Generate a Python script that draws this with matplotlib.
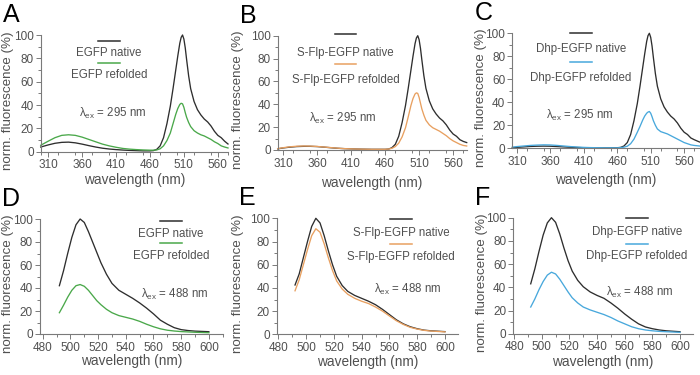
import numpy as np
import matplotlib
matplotlib.use("Agg")
import matplotlib.pyplot as plt
from matplotlib.ticker import MultipleLocator, FixedLocator

plt.rcParams['font.family'] = ['Liberation Sans', 'DejaVu Sans']
plt.rcParams['mathtext.fontset'] = 'custom'
plt.rcParams['mathtext.rm'] = 'Liberation Sans'
plt.rcParams['mathtext.it'] = 'Liberation Sans'
plt.rcParams['mathtext.default'] = 'regular'

# ---------------- data ----------------
# excitation at 295 nm, panels A-C
a_x = [299, 310, 320, 330, 340, 350, 360, 370, 380, 390, 400, 410, 420, 430, 440, 450, 460, 465,
       470, 475, 480, 485, 490, 494, 498, 501, 504, 506, 508, 510, 512, 514, 517, 520, 525, 530,
       535, 540, 545, 550, 555, 560, 565, 570, 575]
a_nat_y = [4, 5.8, 7.2, 8, 8.2, 7.6, 6.5, 5.2, 4, 3, 2.3, 1.8, 1.4, 1.1, 0.9, 0.7, 0.7, 0.9,
           2, 5, 12, 24, 39, 54, 70, 82, 93, 98, 100, 96.5, 89, 79, 65, 54, 43, 36,
           31.5, 28, 25.5, 22, 17.5, 14, 12, 9, 6.6]
a_ref_y = [5.5, 9, 12, 14, 14.5, 14, 12.5, 10.5, 8.5, 6.5, 5, 3.8, 2.8, 2.2, 1.8, 1.5, 1.3, 1.3,
           1.5, 2.5, 5, 9.5, 16, 24, 32, 37, 40.5, 41.5, 41, 38, 33.5, 29.5, 25, 21.5, 18, 16,
           14.5, 13.5, 12, 10.5, 8.5, 7, 5, 4, 3.2]

b_x = [302, 310, 320, 330, 340, 350, 360, 370, 380, 390, 400, 410, 420, 430, 440, 450, 460, 465,
       470, 475, 480, 485, 490, 494, 498, 501, 504, 506, 508, 510, 512, 514, 517, 520, 525, 530,
       535, 540, 545, 550, 555, 560, 565, 570, 575, 580]
b_nat_y = [1, 1.8, 2.5, 3, 3.2, 3.2, 3, 2.5, 2, 1.5, 1.2, 1, 0.8, 0.7, 0.6, 0.6, 0.6, 0.8,
           2, 5, 12, 24, 39, 54, 70, 82, 93, 98, 100, 96.5, 89, 79, 65, 54, 43, 36,
           31.5, 28, 25.5, 22, 17.5, 14, 12, 9, 7.5, 6.5]
b_ref_y = [1.2, 2, 2.8, 3.3, 3.5, 3.4, 3.1, 2.6, 2.1, 1.6, 1.2, 1, 0.8, 0.7, 0.6, 0.6, 0.6, 0.8,
           1.5, 3, 6, 11.5, 19.5, 29, 39, 45, 49, 50, 49.5, 46, 41, 36, 30.5, 26, 22, 19.5,
           18, 16.5, 14.5, 12.5, 10, 8, 6.5, 5, 4, 3.5]

c_x = [303, 310, 320, 330, 340, 350, 360, 370, 380, 390, 400, 410, 420, 430, 440, 450, 460, 465,
       470, 475, 480, 485, 490, 494, 498, 501, 504, 506, 508, 510, 512, 514, 517, 520, 525, 530,
       535, 540, 545, 550, 555, 560, 565, 570, 575, 583]
c_nat_y = [0.5, 0.8, 1.2, 1.6, 1.8, 1.9, 1.8, 1.5, 1.2, 0.9, 0.7, 0.5, 0.5, 0.4, 0.4, 0.4, 0.5, 0.8,
           2, 5, 12, 24, 39, 54, 70, 82, 93, 98, 100, 96.5, 89, 79, 65, 54, 43, 36,
           31.5, 28, 25.5, 22, 17.5, 14, 12, 9, 7.5, 5.5]
c_ref_y = [1, 1.5, 2, 2.5, 2.8, 3, 2.9, 2.5, 2, 1.5, 1.1, 0.8, 0.6, 0.5, 0.4, 0.4, 0.4, 0.6,
           1, 1.8, 4, 8, 14, 19, 24.5, 28, 30.5, 31.5, 32, 30.5, 27.5, 24, 20, 16.8, 14.5, 13.5,
           12.5, 11, 9.5, 8, 6.5, 5, 4, 3, 2.5, 2]

# excitation at 488 nm, panels D-F
vis_x = [492, 495, 498, 501, 504, 507, 510, 513, 516, 519, 522, 526, 530, 535, 540, 545, 550,
         555, 560, 565, 570, 575, 580, 585, 590, 600]
d_nat_y = [42, 55, 70, 84, 95, 100, 97, 89, 80, 71, 62, 52, 44, 38, 34.5, 31, 27,
           22.5, 17.5, 12, 8.5, 5.5, 3.8, 3, 2.5, 2]
d_ref_y = [18.5, 25, 32, 38, 42, 43, 41.5, 38, 33.5, 29, 25.5, 21.5, 18.5, 16, 14.5, 13, 11,
           8.5, 6.3, 4.5, 3.3, 2.6, 2.1, 1.8, 1.5, 1.1]
e_nat_y = [42.5, 52, 66, 80, 93, 100, 96, 85, 72, 60, 50, 42, 37, 33.5, 31, 28.5, 25.5,
           21.5, 17, 12.5, 9, 6.5, 4.8, 3.6, 3, 2.3]
e_ref_y = [37.5, 47, 60, 73, 85, 91, 88, 78, 66, 55, 46, 39, 34.5, 31, 28.5, 26.5, 23.5,
           20, 15.8, 11.7, 8.5, 6, 4.5, 3.4, 2.8, 2.1]
f_nat_y = [43, 56, 71, 85, 95.5, 100, 96, 86, 74, 63, 54, 46, 40.5, 36, 33, 30.5, 26.5,
           22, 17, 12.5, 8.5, 5.8, 4.3, 3.2, 2.5, 1.7]
f_ref_y = [23, 30, 38, 45, 50.5, 53, 51.5, 47, 41.5, 36, 31, 26.5, 23, 20.5, 18.5, 16.5, 14,
           11, 8.5, 6, 4.3, 3.2, 2.5, 2, 1.7, 1.2]

xticks_uv = [310, 360, 410, 460, 510, 560]
xticks_vis = [480, 500, 520, 540, 560, 580, 600]
yticks = [0, 20, 40, 60, 80, 100]

# ---------------- styling ----------------
W, H = 700, 375
TXT = '#505050'
AXC = '#7a7a7a'
C_NAT = '#2e2e2e'
C_GREEN = '#4aa84a'
C_ORANGE = '#e8a060'
C_BLUE = '#48a8dc'


def fx(x):
    return x / W


def fy(y):
    return 1 - y / H


fig = plt.figure(figsize=(7, 3.75), dpi=100)


def panel(letter, rect, xlim, xt, minor, x, y1, y2, col, names, lam, pos):
    left, right, top, bottom = rect
    ax = fig.add_axes([fx(left), fy(bottom), fx(right - left), (bottom - top) / H])
    ax.plot(x, y1, color=C_NAT, lw=0.95, clip_on=False)
    ax.plot(x, y2, color=col, lw=0.95, clip_on=False)
    ax.set_xlim(*xlim)
    ax.set_ylim(0, 100)
    ax.xaxis.set_major_locator(FixedLocator(xt))
    ax.xaxis.set_minor_locator(MultipleLocator(minor))
    ax.yaxis.set_major_locator(FixedLocator(yticks))
    ax.yaxis.set_minor_locator(MultipleLocator(10))
    for s in ['top', 'right']:
        ax.spines[s].set_visible(False)
    for s in ['left', 'bottom']:
        ax.spines[s].set_color(AXC)
        ax.spines[s].set_linewidth(0.8)
    ax.tick_params(which='both', color=AXC, width=0.7, labelcolor=TXT)
    ax.tick_params(which='major', length=3.5, pad=2)
    ax.tick_params(which='minor', length=2)
    ax.tick_params(axis='x', labelsize=8.5)
    ax.tick_params(axis='y', labelsize=8.5, pad=1.5)
    ax.patch.set_alpha(0)

    cx, l1, t1, l2, t2, lx, ly, ylx, xly = pos
    fig.text(fx(left - 38), fy(top - 13), letter, fontsize=18, color='black',
             ha='left', va='baseline')
    fig.lines.append(plt.Line2D([fx(cx - 11), fx(cx + 11)], [fy(l1), fy(l1)],
                                color=C_NAT, lw=1.1, transform=fig.transFigure))
    fig.lines.append(plt.Line2D([fx(cx - 11), fx(cx + 11)], [fy(l2), fy(l2)],
                                color=col, lw=1.1, transform=fig.transFigure))
    fig.text(fx(cx), fy(t1), names[0], fontsize=8.3, color=TXT, ha='center', va='center')
    fig.text(fx(cx), fy(t2), names[1], fontsize=8.3, color=TXT, ha='center', va='center')
    fig.text(fx(lx), fy(ly), r'$\lambda_{ex}$ = ' + lam, fontsize=8.3, color=TXT,
             ha='center', va='center')
    fig.text(fx(ylx), fy((top + bottom) / 2 + 7), 'norm. fluorescence (%)', fontsize=9.6,
             color=TXT, rotation=90, ha='center', va='center')
    fig.text(fx((left + right) / 2), fy(xly), 'wavelength (nm)', fontsize=9.8,
             color=TXT, ha='center', va='center')
    return ax


panel('A', (40.7, 228, 35, 151.7), (299, 575), xticks_uv, 25, a_x, a_nat_y, a_ref_y,
      C_GREEN, ['EGFP native', 'EGFP refolded'], '295 nm',
      (109, 40.7, 53, 62.7, 75, 113, 113, 8, 180))
panel('B', (277.7, 466.7, 35.7, 150), (302, 580), xticks_uv, 25, b_x, b_nat_y, b_ref_y,
      C_ORANGE, ['S-Flp-EGFP native', 'S-Flp-EGFP refolded'], '295 nm',
      (345.5, 34.3, 52.7, 64, 80, 343, 118, 238, 183))
panel('C', (512.3, 699.5, 33.3, 148.3), (303, 583), xticks_uv, 25, c_x, c_nat_y, c_ref_y,
      C_BLUE, ['Dhp-EGFP native', 'Dhp-EGFP refolded'], '295 nm',
      (581, 33.3, 49.3, 61.7, 78.3, 580, 115, 481, 180))
panel('D', (40, 222.7, 219, 334), (478, 610), xticks_vis, 10, vis_x, d_nat_y, d_ref_y,
      C_GREEN, ['EGFP native', 'EGFP refolded'], '488 nm',
      (171, 220.7, 233.7, 242.7, 255.7, 175, 294.3, 8, 361))
panel('E', (276.7, 458, 218.3, 334.3), (478.8, 609.4), xticks_vis, 10, vis_x, e_nat_y, e_ref_y,
      C_ORANGE, ['S-Flp-EGFP native', 'S-Flp-EGFP refolded'], '488 nm',
      (401, 219, 232.7, 244, 256.7, 407.5, 289, 237.5, 361.7))
panel('F', (513.3, 693, 217.7, 333.7), (479.4, 609.4), xticks_vis, 10, vis_x, f_nat_y, f_ref_y,
      C_BLUE, ['Dhp-EGFP native', 'Dhp-EGFP refolded'], '488 nm',
      (637, 218.3, 231.7, 244, 255.7, 640, 292.3, 481.5, 361.7))

fig.savefig('out.png', dpi=100)
